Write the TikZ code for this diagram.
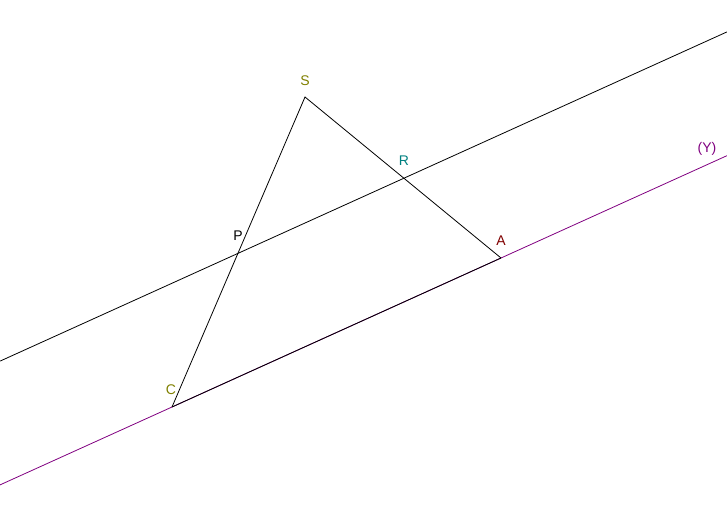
\documentclass[tikz,border=0pt]{standalone}
\usepackage{fontspec}
\setmainfont{Liberation Sans}
\usetikzlibrary{calc}
\definecolor{olivec}{RGB}{128,128,0}
\definecolor{tealc}{RGB}{0,128,128}
\definecolor{maroonc}{RGB}{128,0,0}
\definecolor{purplec}{RGB}{128,0,128}
\tikzset{
  lbl/.style={font=\fontsize{14}{14}\selectfont, inner sep=0pt},
  seg/.style={line width=0.8pt, black},
  pline/.style={line width=0.8pt, purplec},
}
\begin{document}
\begin{tikzpicture}[x=1pt,y=-1pt]
\useasboundingbox (0,0) rectangle (727,524);
\coordinate (S) at (305,97);
\coordinate (C) at (172,407);
\coordinate (A) at (501,258);
\coordinate (P) at ($(S)!0.5045!(C)$);
\coordinate (R) at ($(S)!0.5045!(A)$);
\coordinate (Y1) at ($(C)!-0.5228!(A)$);
\coordinate (Y2) at ($(C)!1.687!(A)$);
\coordinate (L1) at ($(P)!-1.433!(R)$);
\coordinate (L2) at ($(P)!2.946!(R)$);
\draw[pline] (Y1) -- (Y2);
\draw[seg] (L1) -- (L2);
\draw[seg] (C) -- (S) -- (A);
\draw[seg] (C) -- (A);
\node[lbl, text=olivec] (lS) at (305,81) {S};
\node[lbl, text=tealc] (lR) at (404,161) {R};
\node[lbl, text=black] (lP) at (238,236) {P};
\node[lbl, text=maroonc] (lA) at (501,241) {A};
\node[lbl, text=olivec] (lC) at (171,390) {C};
\node[lbl, text=purplec] (lY) at (707,149) {(Y)};
\end{tikzpicture}
\end{document}
